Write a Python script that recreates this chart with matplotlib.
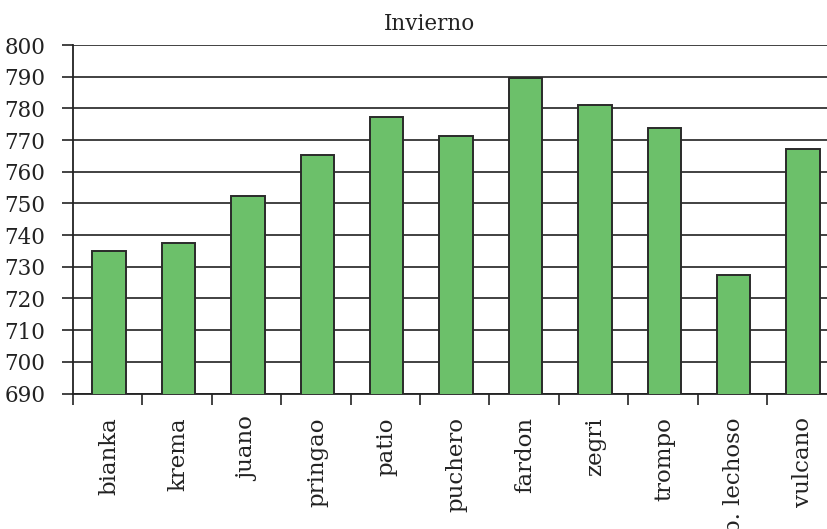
import matplotlib
matplotlib.use("Agg")
import matplotlib.pyplot as plt
import numpy as np

categories = ["bianka", "krema", "juano", "pringao", "patio", "puchero",
              "fardon", "zegri", "trompo", "b. lechoso", "vulcano"]
values = [735.0, 737.6, 752.2, 765.4, 777.3, 771.3, 789.7, 781.2, 773.9, 727.5, 767.3]
yticks = list(range(690, 801, 10))
title = "Invierno"

plt.rcParams['font.family'] = ['DejaVu Serif']

W, H = 828, 529
fig = plt.figure(figsize=(W / 100, H / 100), dpi=100)
left = 73 / W
bottom = 1 - 393.5 / H
top = 1 - 45 / H
width = 11 * 69.4 / W
ax = fig.add_axes([left, bottom, width, top - bottom])

x = np.arange(len(categories))
ax.set_axisbelow(True)
ax.yaxis.grid(True, color="#333333", linewidth=1.3)
ax.bar(x + 0.02, values, width=0.48, bottom=0, color="#6cc06a", edgecolor="#2a2a2a", linewidth=1.4, zorder=3)

ax.set_xlim(-0.5, len(categories) - 0.5)
ax.set_ylim(690, 800)
ax.set_yticks(yticks)
ax.set_yticklabels([str(t) for t in yticks], fontsize=15.5, color="#222222")
ax.tick_params(axis="y", direction="out", length=8, width=1.2, color="#222222", pad=12)

ax.set_xticks(x + 0.02)
ax.set_xticklabels(categories, rotation=90, fontsize=16.5, color="#222222", va="top", ha="center")
ax.tick_params(axis="x", which="major", length=0, pad=17)
ax.set_xticks(np.arange(-0.5, len(categories), 1.0), minor=True)
ax.tick_params(axis="x", which="minor", direction="out", length=8, width=1.2, color="#222222")

for s in ["top", "right"]:
    ax.spines[s].set_visible(False)
for s in ["left", "bottom"]:
    ax.spines[s].set_color("#222222")
    ax.spines[s].set_linewidth(1.3)

fig.text(430 / W, 1 - 30 / H, title, ha="center", va="baseline", fontsize=15.5, color="#222222")

fig.savefig("out.png", dpi=100)
